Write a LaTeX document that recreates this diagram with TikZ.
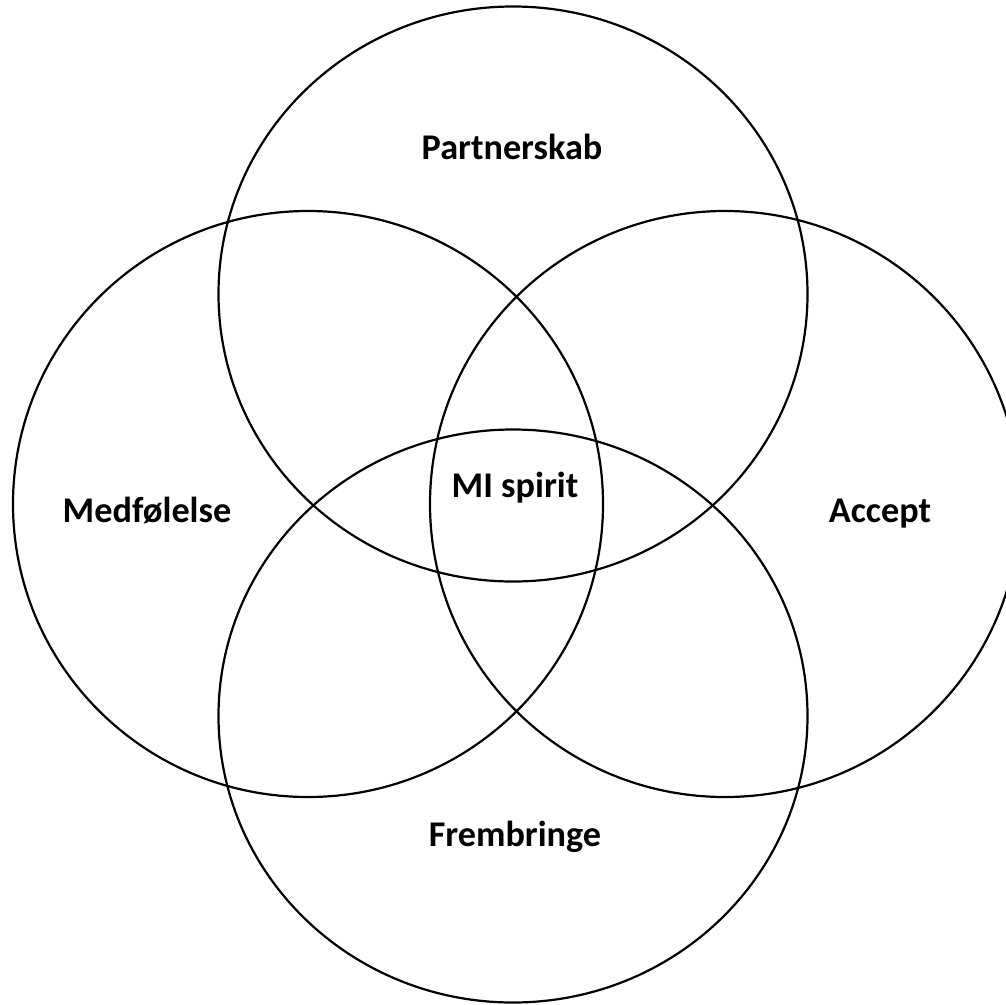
\documentclass[tikz,border=0pt]{standalone}
\usepackage{fontspec}
\setmainfont{Carlito}
\begin{document}
\begin{tikzpicture}[x=1pt,y=-1pt,
  ring/.style={draw=black,line width=2.2pt},
  lbl/.style={font=\fontsize{36.2}{40}\selectfont\bfseries,anchor=base,inner sep=0pt}]
\useasboundingbox (0,0) rectangle (1006,1004);
\clip (0,0) rectangle (1006,1004);
\draw[ring] (513,294) ellipse [x radius=294.5,y radius=287.5];
\draw[ring] (308,504) ellipse [x radius=295,y radius=293];
\draw[ring] (725,504) ellipse [x radius=295,y radius=293];
\draw[ring] (513,716) ellipse [x radius=294.5,y radius=286.5];
\node[lbl] (partner) at (512,159) {Partnerskab};
\node[lbl] (medf) at (147,522) {Medfølelse};
\node[lbl] (accept) at (880,522) {Accept};
\node[lbl] (mi) at (515,497) {MI spirit};
\node[lbl] (fremb) at (515,846) {Frembringe};
\end{tikzpicture}
\end{document}
